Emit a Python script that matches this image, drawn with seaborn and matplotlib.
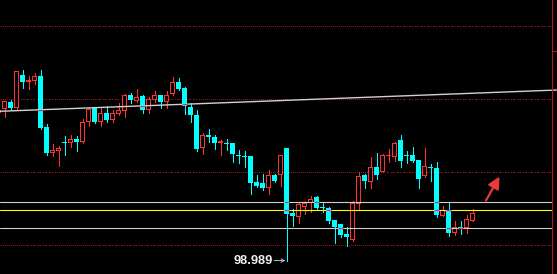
import numpy as np
import pandas as pd
import matplotlib
matplotlib.use("Agg")
import matplotlib.pyplot as plt
import seaborn as sns

# ---------------- data ----------------
bar_index = list(range(-1, 79))
open_ = [99.0904, 99.0925, 99.0973, 99.0938, 99.1158, 99.1116, 99.1123, 99.1151, 99.0808, 99.0630,
         99.0637, 99.0705, 99.0692, 99.0726, 99.0705, 99.0836, 99.0932, 99.0836, 99.0904, 99.0856,
         99.0897, 99.0911, 99.1021, 99.0986, 99.1014, 99.0918, 99.0993, 99.1021, 99.0973, 99.1034,
         99.1116, 99.1075, 99.0945, 99.0884, 99.0658, 99.0753, 99.0733, 99.0692, 99.0692, 99.0692,
         99.0616, 99.0603, 99.0603, 99.0425, 99.0418, 99.0390, 99.0473, 99.0473, 99.0658, 99.0219,
         99.0185, 99.0260, 99.0281, 99.0322, 99.0253, 99.0253, 99.0171, 99.0137, 99.0075, 99.0034,
         99.0274, 99.0473, 99.0425, 99.0534, 99.0500, 99.0603, 99.0596, 99.0719, 99.0616, 99.0610,
         99.0582, 99.0466, 99.0527, 99.0527, 99.0192, 99.0233, 99.0082, 99.0123, 99.0116, 99.0164]
high = [99.0932, 99.0986, 99.0993, 99.1185, 99.1192, 99.1151, 99.1178, 99.1192, 99.0822, 99.0685,
        99.0678, 99.0740, 99.0753, 99.0740, 99.0863, 99.0938, 99.0938, 99.0945, 99.0952, 99.0918,
        99.0966, 99.1034, 99.1041, 99.1062, 99.1027, 99.1007, 99.1048, 99.1027, 99.1048, 99.1144,
        99.1137, 99.1082, 99.0966, 99.0918, 99.0767, 99.0788, 99.0747, 99.0719, 99.0726, 99.0692,
        99.0644, 99.0637, 99.0603, 99.0479, 99.0486, 99.0507, 99.0486, 99.0616, 99.0664, 99.0240,
        99.0288, 99.0301, 99.0329, 99.0329, 99.0281, 99.0260, 99.0171, 99.0137, 99.0123, 99.0295,
        99.0500, 99.0486, 99.0596, 99.0630, 99.0623, 99.0651, 99.0705, 99.0747, 99.0637, 99.0671,
        99.0582, 99.0658, 99.0548, 99.0562, 99.0267, 99.0288, 99.0158, 99.0164, 99.0205, 99.0240]
low = [99.0877, 99.0870, 99.0925, 99.0918, 99.1075, 99.1062, 99.1096, 99.0788, 99.0616, 99.0603,
       99.0541, 99.0616, 99.0671, 99.0637, 99.0692, 99.0815, 99.0829, 99.0815, 99.0842, 99.0842,
       99.0884, 99.0870, 99.0966, 99.0973, 99.0904, 99.0904, 99.0979, 99.0932, 99.0938, 99.1021,
       99.1055, 99.0897, 99.0842, 99.0637, 99.0623, 99.0705, 99.0651, 99.0616, 99.0644, 99.0562,
       99.0555, 99.0534, 99.0349, 99.0397, 99.0370, 99.0349, 99.0425, 99.0404, 98.9890, 99.0130,
       99.0144, 99.0212, 99.0226, 99.0233, 99.0226, 99.0144, 99.0007, 99.0048, 98.9993, 99.0027,
       99.0233, 99.0390, 99.0390, 99.0452, 99.0500, 99.0562, 99.0575, 99.0534, 99.0555, 99.0562,
       99.0390, 99.0459, 99.0438, 99.0185, 99.0192, 99.0055, 99.0068, 99.0075, 99.0082, 99.0164]
close = [99.0918, 99.0986, 99.0938, 99.1185, 99.1116, 99.1130, 99.1151, 99.0801, 99.0630, 99.0644,
         99.0664, 99.0692, 99.0726, 99.0705, 99.0836, 99.0925, 99.0836, 99.0904, 99.0856, 99.0904,
         99.0918, 99.1021, 99.0993, 99.1007, 99.0918, 99.1000, 99.1021, 99.0973, 99.1027, 99.1116,
         99.1068, 99.0952, 99.0884, 99.0651, 99.0753, 99.0733, 99.0692, 99.0712, 99.0685, 99.0623,
         99.0603, 99.0596, 99.0418, 99.0404, 99.0384, 99.0473, 99.0438, 99.0616, 99.0212, 99.0192,
         99.0274, 99.0281, 99.0315, 99.0247, 99.0247, 99.0164, 99.0123, 99.0068, 99.0048, 99.0281,
         99.0466, 99.0438, 99.0534, 99.0479, 99.0616, 99.0616, 99.0692, 99.0575, 99.0603, 99.0575,
         99.0452, 99.0541, 99.0521, 99.0199, 99.0233, 99.0082, 99.0123, 99.0116, 99.0178, 99.0219]

grid_levels = [99.00, 99.05, 99.10, 99.15]
white_levels = [99.0288, 99.0116]
yellow_levels = [99.0233]
trend_x = [-1, 92]
trend_y = [99.0912, 99.1058]
axis_tick_level = 99.1322
low_label = "98.989"
low_bar = 47
signal_from = (80.25, 99.0301)
signal_to = (82.5, 99.0466)

# ---------------- style ----------------
sns.set_theme(style="dark", rc={"axes.facecolor": "black", "figure.facecolor": "black"})
plt.rcParams["font.family"] = ["Liberation Sans", "DejaVu Sans"]

PX = 0.72  # one pixel in points at dpi 100
CYAN = "#00ffff"
RED = "#ff3232"
GRID_RED = "#a01010"
AXIS_RED = "#b01c1c"
WHITE_LN = "#d0d0d0"
YELLOW = "#ffff00"

df = pd.DataFrame({"i": bar_index, "o": open_, "h": high, "l": low, "c": close})
df["up"] = df["c"] >= df["o"]

fig = plt.figure(figsize=(5.57, 2.74), dpi=100)
ax = fig.add_axes([0, 0, 1, 1])
ax.set_facecolor("black")
xmin = -0.75
xmax = xmin + 557 / 6
axis_x = xmin + 551.5 / 6
axis_frac = 551.5 / 557
ylo, yhi = 98.979795, 99.167466
ax.set_xlim(xmin, xmax)
ax.set_ylim(ylo, yhi)
ax.axis("off")
ypx = (yhi - ylo) / 274  # one pixel in price units
xpx = 1 / 6              # one pixel in bar units

# grid lines (dotted dark red): one-pixel dots every other pixel
dot_x = np.arange(xmin + 0.5 * xpx, axis_x - xpx, 2 * xpx)
for g in grid_levels:
    ax.scatter(dot_x, np.full(dot_x.shape, g), s=PX ** 2, marker="s", c=GRID_RED,
               linewidths=0, antialiased=False, zorder=1)

# candles
up = df[df["up"]]
dn = df[~df["up"]]
ax.vlines(dn["i"], dn["l"], dn["h"], colors=CYAN, linewidth=PX, zorder=2, antialiased=False)
ax.bar(dn["i"], (dn["o"] - dn["c"]).clip(lower=ypx), bottom=dn["c"], width=5 / 6,
       color=CYAN, linewidth=0, zorder=3, antialiased=False)
ax.vlines(up["i"], up["l"], up["h"], colors=RED, linewidth=PX, zorder=2, antialiased=False)
ax.bar(up["i"], (up["c"] - up["o"]).clip(lower=ypx), bottom=up["o"], width=5 / 6,
       color=RED, linewidth=0, zorder=3, antialiased=False)
hollow = up[(up["c"] - up["o"]) > 2 * ypx]
ax.bar(hollow["i"], hollow["c"] - hollow["o"] - 2 * ypx, bottom=hollow["o"] + ypx,
       width=3 / 6, color="black", linewidth=0, zorder=3.5, antialiased=False)

# horizontal levels and trend line
for lv in white_levels:
    ax.axhline(lv, 0, axis_frac, color=WHITE_LN, linewidth=1.1 * PX, zorder=4)
for lv in yellow_levels:
    ax.axhline(lv, 0, axis_frac, color=YELLOW, linewidth=1.1 * PX, zorder=4)
sns.lineplot(x=trend_x, y=trend_y, ax=ax, color=WHITE_LN, linewidth=1.4 * PX,
             zorder=4, legend=False)

# XOR look where lines cross the filled cyan bodies
def xor_marks(values_fn, color):
    for _, r in dn.iterrows():
        v = values_fn(r["i"])
        if r["c"] <= v <= r["o"]:
            ax.hlines(v, r["i"] - 0.4, r["i"] + 0.4, colors=color,
                      linewidth=1.2 * PX, zorder=5)

for lv in white_levels:
    xor_marks(lambda i, lv=lv: lv, "#d83737")
for lv in yellow_levels:
    xor_marks(lambda i, lv=lv: lv, "#ff00ff")
xor_marks(lambda i: np.interp(i, trend_x, trend_y), "#d83737")

# right axis
ax.axvline(axis_x, color=AXIS_RED, linewidth=1.2 * PX, zorder=6)
ax.hlines(axis_tick_level, axis_x, xmax, colors=AXIS_RED, linewidth=PX, zorder=6)

# low label with arrow
low_val = df.loc[df["i"] == low_bar, "l"].iloc[0]
ax.annotate(low_label, xy=(low_bar, low_val), xytext=(-13.5 * PX, 0),
            textcoords="offset points", ha="right", va="center",
            fontsize=9.2, color="#f0f0f0", fontweight="bold", zorder=7)
ax.annotate("", xy=(low_bar - 1 / 6, low_val), xytext=(-11.5 * PX, 0),
            textcoords="offset points",
            arrowprops=dict(arrowstyle="->", color="#b8b8b8", lw=PX, mutation_scale=6,
                            shrinkA=0, shrinkB=0), zorder=7)

# red signal arrow
ax.annotate("", xy=signal_to, xytext=signal_from,
            arrowprops=dict(arrowstyle="-|>,head_length=0.7,head_width=0.35",
                            color="#e83a3a", lw=1.6, mutation_scale=10,
                            shrinkA=0, shrinkB=0), zorder=7)

fig.savefig("out.png", dpi=100, facecolor="black")
